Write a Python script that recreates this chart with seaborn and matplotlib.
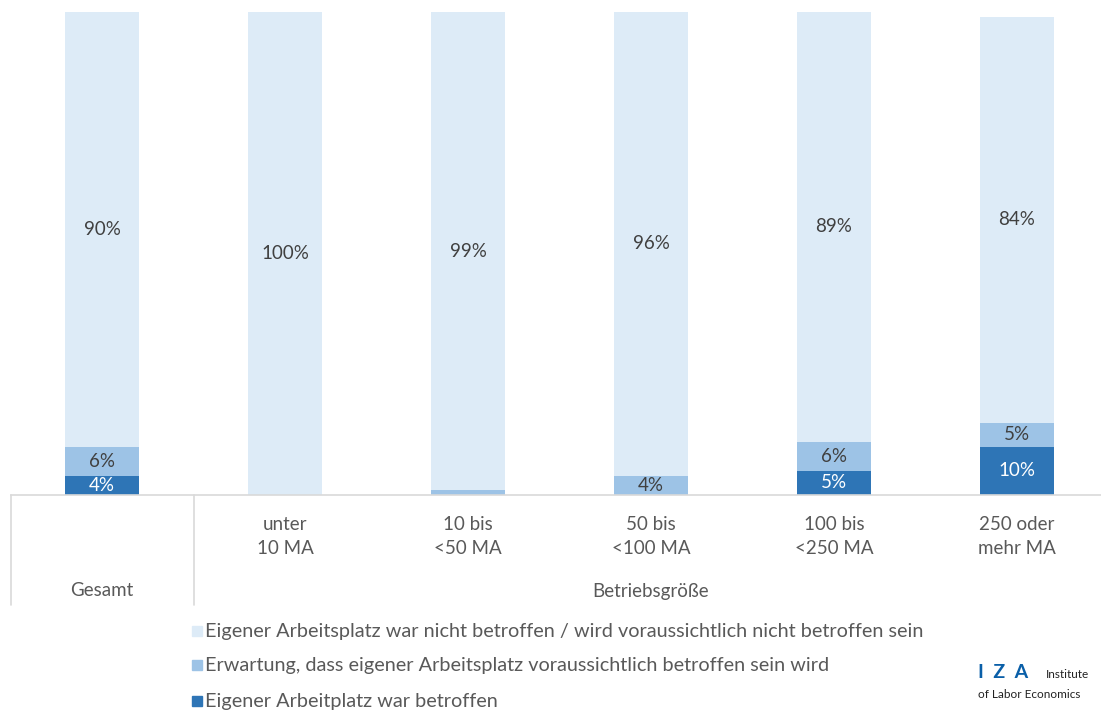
import numpy as np
import pandas as pd
import seaborn as sns
import matplotlib.pyplot as plt
import matplotlib.transforms as mtransforms
from matplotlib.lines import Line2D

# Data (percent)
categories = ["Gesamt", "unter\n10 MA", "10 bis\n<50 MA", "50 bis\n<100 MA", "100 bis\n<250 MA", "250 oder\nmehr MA"]
war_betroffen = [4, 0, 0, 0, 5, 10]
erwartung = [6, 0, 1, 4, 6, 5]
nicht_betroffen = [90, 100, 99, 96, 89, 84]
group_label = "Betriebsgröße"

legend_labels = [
    "Eigener Arbeitsplatz war nicht betroffen / wird voraussichtlich nicht betroffen sein",
    "Erwartung, dass eigener Arbeitsplatz voraussichtlich betroffen sein wird",
    "Eigener Arbeitplatz war betroffen",
]

c_light = "#DDEBF7"
c_mid = "#9DC3E6"
c_dark = "#2E75B6"
txt = "#595959"
fs = 13.5

sns.set_style("white")
plt.rcParams["font.family"] = ["Lato", "DejaVu Sans"]

df = pd.DataFrame({
    "cat": categories,
    "dark": war_betroffen,
    "mid": erwartung,
    "light": nicht_betroffen,
})
df["top_mid"] = df["dark"] + df["mid"]
df["top_all"] = df["top_mid"] + df["light"]

W, H = 1101, 714
fig = plt.figure(figsize=(W / 100, H / 100), dpi=100)
# axes placed in pixels: left 10.5, baseline y=495, top y=12, category pitch 183 px
ax = fig.add_axes([10.5 / W, (H - 495) / H, 183 * 6 / W, 483 / H])

# layered bars: total first, then overlaps give the stacked look
sns.barplot(data=df, x="cat", y="top_all", color=c_light, width=0.4, ax=ax, saturation=1, linewidth=0)
sns.barplot(data=df, x="cat", y="top_mid", color=c_mid, width=0.4, ax=ax, saturation=1, linewidth=0)
sns.barplot(data=df, x="cat", y="dark", color=c_dark, width=0.4, ax=ax, saturation=1, linewidth=0)

ax.set_xlim(-0.5, 5.5)
ax.set_ylim(0, 100)
ax.set_xlabel("")
ax.set_ylabel("")
ax.set_xticks([])
ax.set_yticks([])
for s in ["top", "right", "left"]:
    ax.spines[s].set_visible(False)
ax.spines["bottom"].set_color("#D9D9D9")
ax.spines["bottom"].set_linewidth(1.2)

# value labels
for i, row in df.iterrows():
    if row["dark"] > 0:
        ax.text(i, row["dark"] / 2, f"{row['dark']}%", ha="center", va="center",
                color="white", fontsize=fs)
    if row["mid"] >= 2:
        ax.text(i, row["dark"] + row["mid"] / 2, f"{row['mid']}%", ha="center", va="center",
                color="#404040", fontsize=fs)
    ax.text(i, row["top_mid"] + row["light"] / 2, f"{row['light']}%", ha="center", va="center",
            color="#404040", fontsize=fs)

# category axis below the plot (two levels)
tr = mtransforms.blended_transform_factory(ax.transData, fig.transFigure)
def fy(py):
    return 1 - py / H

for i, lab in enumerate(categories[1:], start=1):
    ax.text(i, fy(536), lab, transform=tr, ha="center", va="center", color=txt,
            fontsize=fs, linespacing=1.5)
ax.text(0, fy(591), categories[0], transform=tr, ha="center", va="center", color=txt, fontsize=fs)
ax.text(3, fy(591), group_label, transform=tr, ha="center", va="center", color=txt, fontsize=fs)

for xs in [-0.5, 0.5]:
    fig.add_artist(Line2D([xs, xs], [fy(495), fy(605)], transform=tr, color="#D9D9D9", lw=1.2))

# legend drawn as separate rows
for k, (lab, col) in enumerate(zip(legend_labels, [c_light, c_mid, c_dark])):
    y = fy([631, 665, 701][k])
    fig.patches.append(plt.Rectangle((192 / W, y - 5 / H), 10 / W, 10 / H, transform=fig.transFigure,
                                     color=col, figure=fig))
    fig.text(205 / W, y, lab, ha="left", va="center", color=txt, fontsize=14.3)

# IZA mark in the lower right corner
fig.text(978 / W, fy(673), "I  Z  A", ha="left", va="center", color="#0A5FA8",
         fontsize=14, fontweight="bold")
fig.text(1046 / W, fy(674), "Institute", ha="left", va="center", color="#222222", fontsize=8.5)
fig.text(978 / W, fy(695), "of Labor Economics", ha="left", va="center", color="#222222", fontsize=8.5)

fig.savefig("out.png", dpi=100)
